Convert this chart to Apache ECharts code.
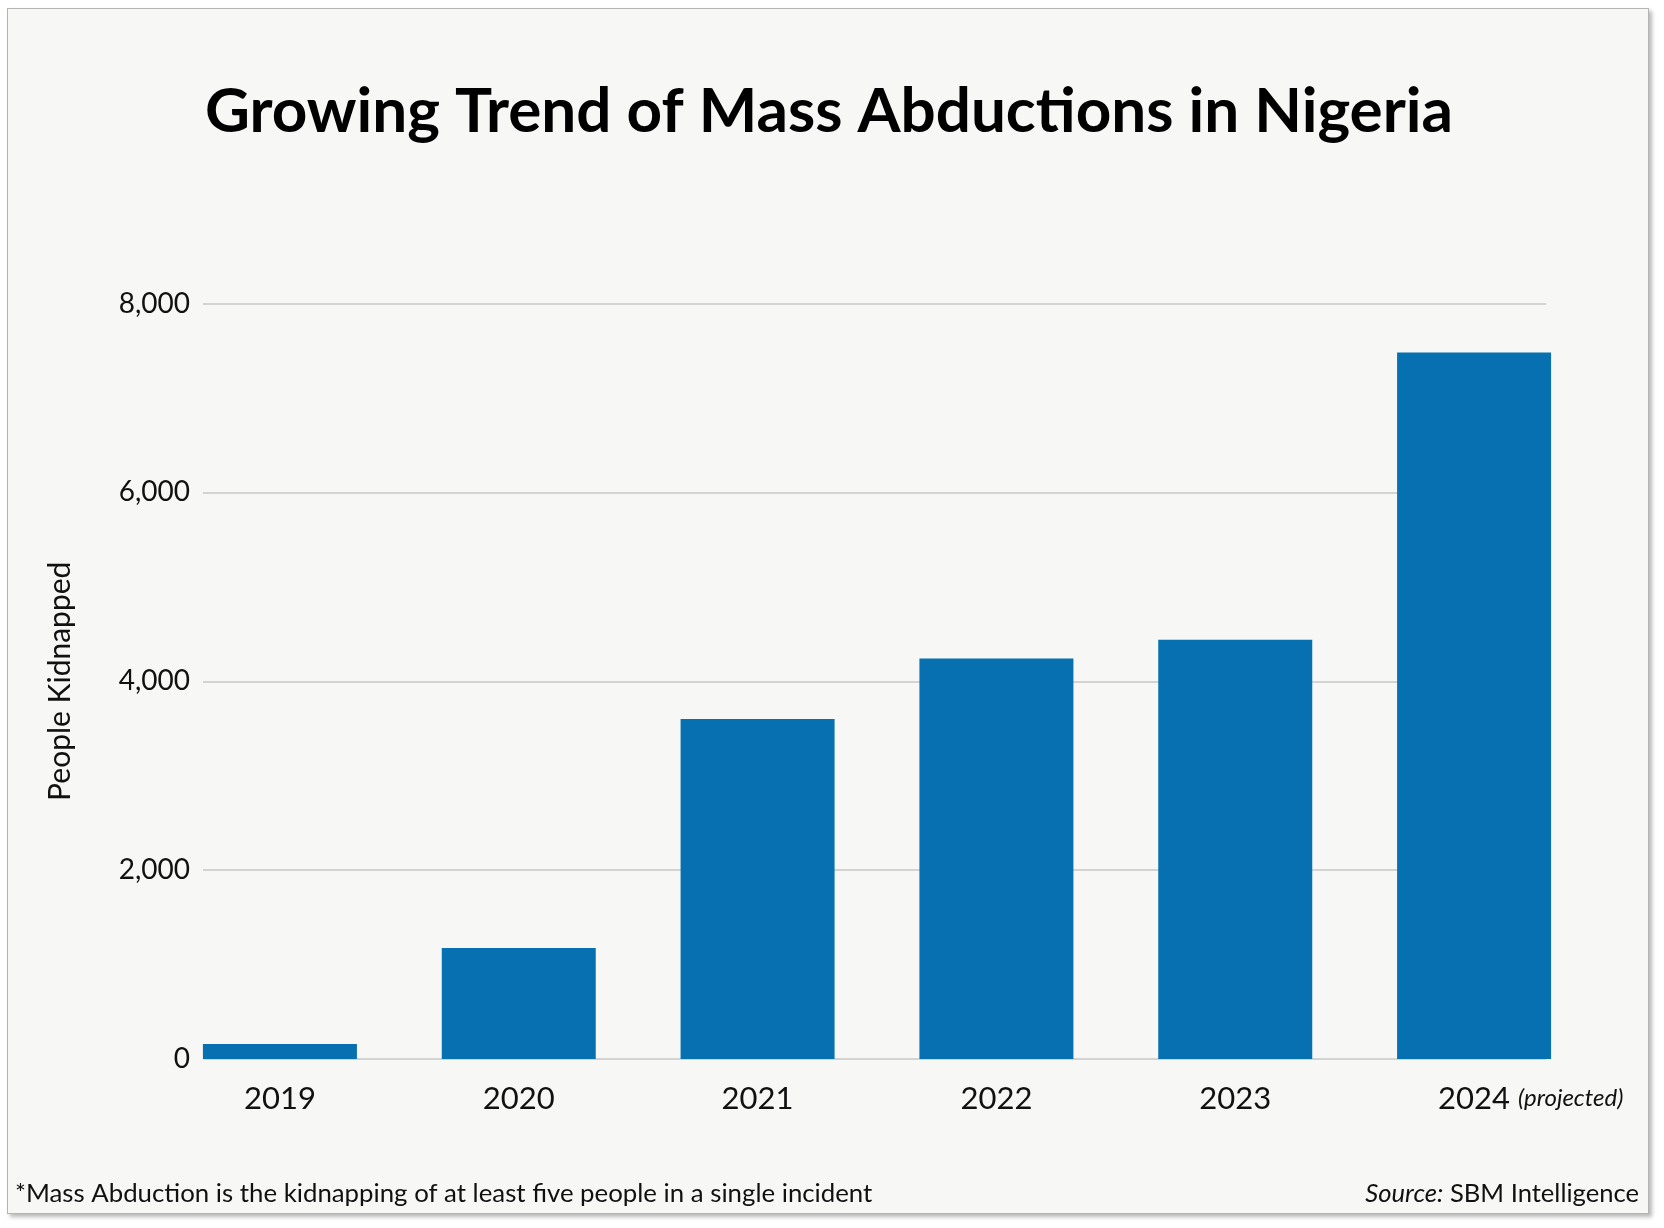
<!DOCTYPE html>
<html>
<head>
<meta charset="utf-8">
<script src="https://cdn.jsdelivr.net/npm/echarts@6/dist/echarts.min.js"></script>
<style>
  html, body { margin: 0; padding: 0; background: #ffffff; }
  #frame { position: absolute; left: 7px; top: 8px; width: 1640px; height: 1204px;
           background: #f7f7f5; border: 1px solid #b4b4b4;
           box-shadow: 3px 3px 4px rgba(0,0,0,0.28); }
  #chart { position: absolute; left: 0; top: 0; width: 1664px; height: 1228px; }
</style>
</head>
<body>
<div id="frame"></div>
<div id="chart"></div>
<script>
const titleText = 'Growing Trend of Mass Abductions in Nigeria';
const categories = ['2019', '2020', '2021', '2022', '2023', '2024'];
const peopleKidnapped = [160, 1175, 3600, 4240, 4440, 7480];
const projectedCategory = '2024';
const yTickMin = 0, yTickMax = 8000, yTickStep = 2000;
const yAxisTitle = 'People Kidnapped';
const footnote = '*Mass Abduction is the kidnapping of at least five people in a single incident';
const sourceLabel = 'Source:';
const sourceName = 'SBM Intelligence';

const FONT = 'Lato, "Noto Sans", sans-serif';
const chart = echarts.init(document.getElementById('chart'), null, { renderer: 'canvas' });

const gridTop = 303.5, gridBottom = 1228 - 1059;

chart.setOption({
  backgroundColor: 'transparent',
  animation: false,
  title: [
    { text: titleText, left: 824, top: 76, textAlign: 'center',
      textStyle: { fontFamily: FONT, fontWeight: 'bold', fontSize: 62, color: '#000' } },
    { text: footnote, left: 10, top: 1176,
      textStyle: { fontFamily: FONT, fontWeight: 'normal', fontSize: 25.8, color: '#111' } },
    { text: '{i|' + sourceLabel + '} ' + sourceName, right: 20, top: 1176,
      textStyle: { fontFamily: FONT, fontWeight: 'normal', fontSize: 25.6, color: '#111',
        rich: { i: { fontFamily: FONT, fontStyle: 'italic', fontSize: 25.6, color: '#111' } } } }
  ],
  grid: [
    { left: 203, width: 1343, top: gridTop, bottom: gridBottom, containLabel: false },
    { left: 160.5, width: 1433, top: gridTop, bottom: gridBottom, containLabel: false }
  ],
  xAxis: [
    { type: 'category', gridIndex: 0, data: categories, show: false },
    { type: 'category', gridIndex: 1, data: categories,
      axisLine: { show: false }, axisTick: { show: false },
      axisLabel: {
        interval: 0, hideOverlap: false,
        margin: 24, fontFamily: FONT, fontSize: 31, color: '#111',
        formatter: function (v) {
          return v === projectedCategory ? '{pad|(projected)} ' + v + ' {p|(projected)}' : v;
        },
        rich: {
          pad: { fontFamily: FONT, fontStyle: 'italic', fontSize: 24, color: 'rgba(0,0,0,0)' },
          p: { fontFamily: FONT, fontStyle: 'italic', fontSize: 24, color: '#111' }
        }
      } }
  ],
  yAxis: [
    { type: 'value', gridIndex: 0, min: yTickMin, max: yTickMax, interval: yTickStep,
      name: yAxisTitle, nameLocation: 'middle', nameGap: 128, nameRotate: 90,
      nameTextStyle: { fontFamily: FONT, fontSize: 30, color: '#111' },
      axisLine: { show: false }, axisTick: { show: false },
      axisLabel: { margin: 13, fontFamily: FONT, fontSize: 28, color: '#111',
        formatter: function (v) { return v.toLocaleString('en-US'); } },
      splitLine: { show: true, lineStyle: { color: '#d3d3d3', width: 2 } } },
    { type: 'value', gridIndex: 1, min: yTickMin, max: yTickMax, interval: yTickStep, show: false,
      splitLine: { show: false } }
  ],
  series: [
    { type: 'bar', xAxisIndex: 1, yAxisIndex: 1, data: peopleKidnapped, barWidth: 154,
      itemStyle: { color: '#0770b0' } }
  ]
});
</script>
</body>
</html>
